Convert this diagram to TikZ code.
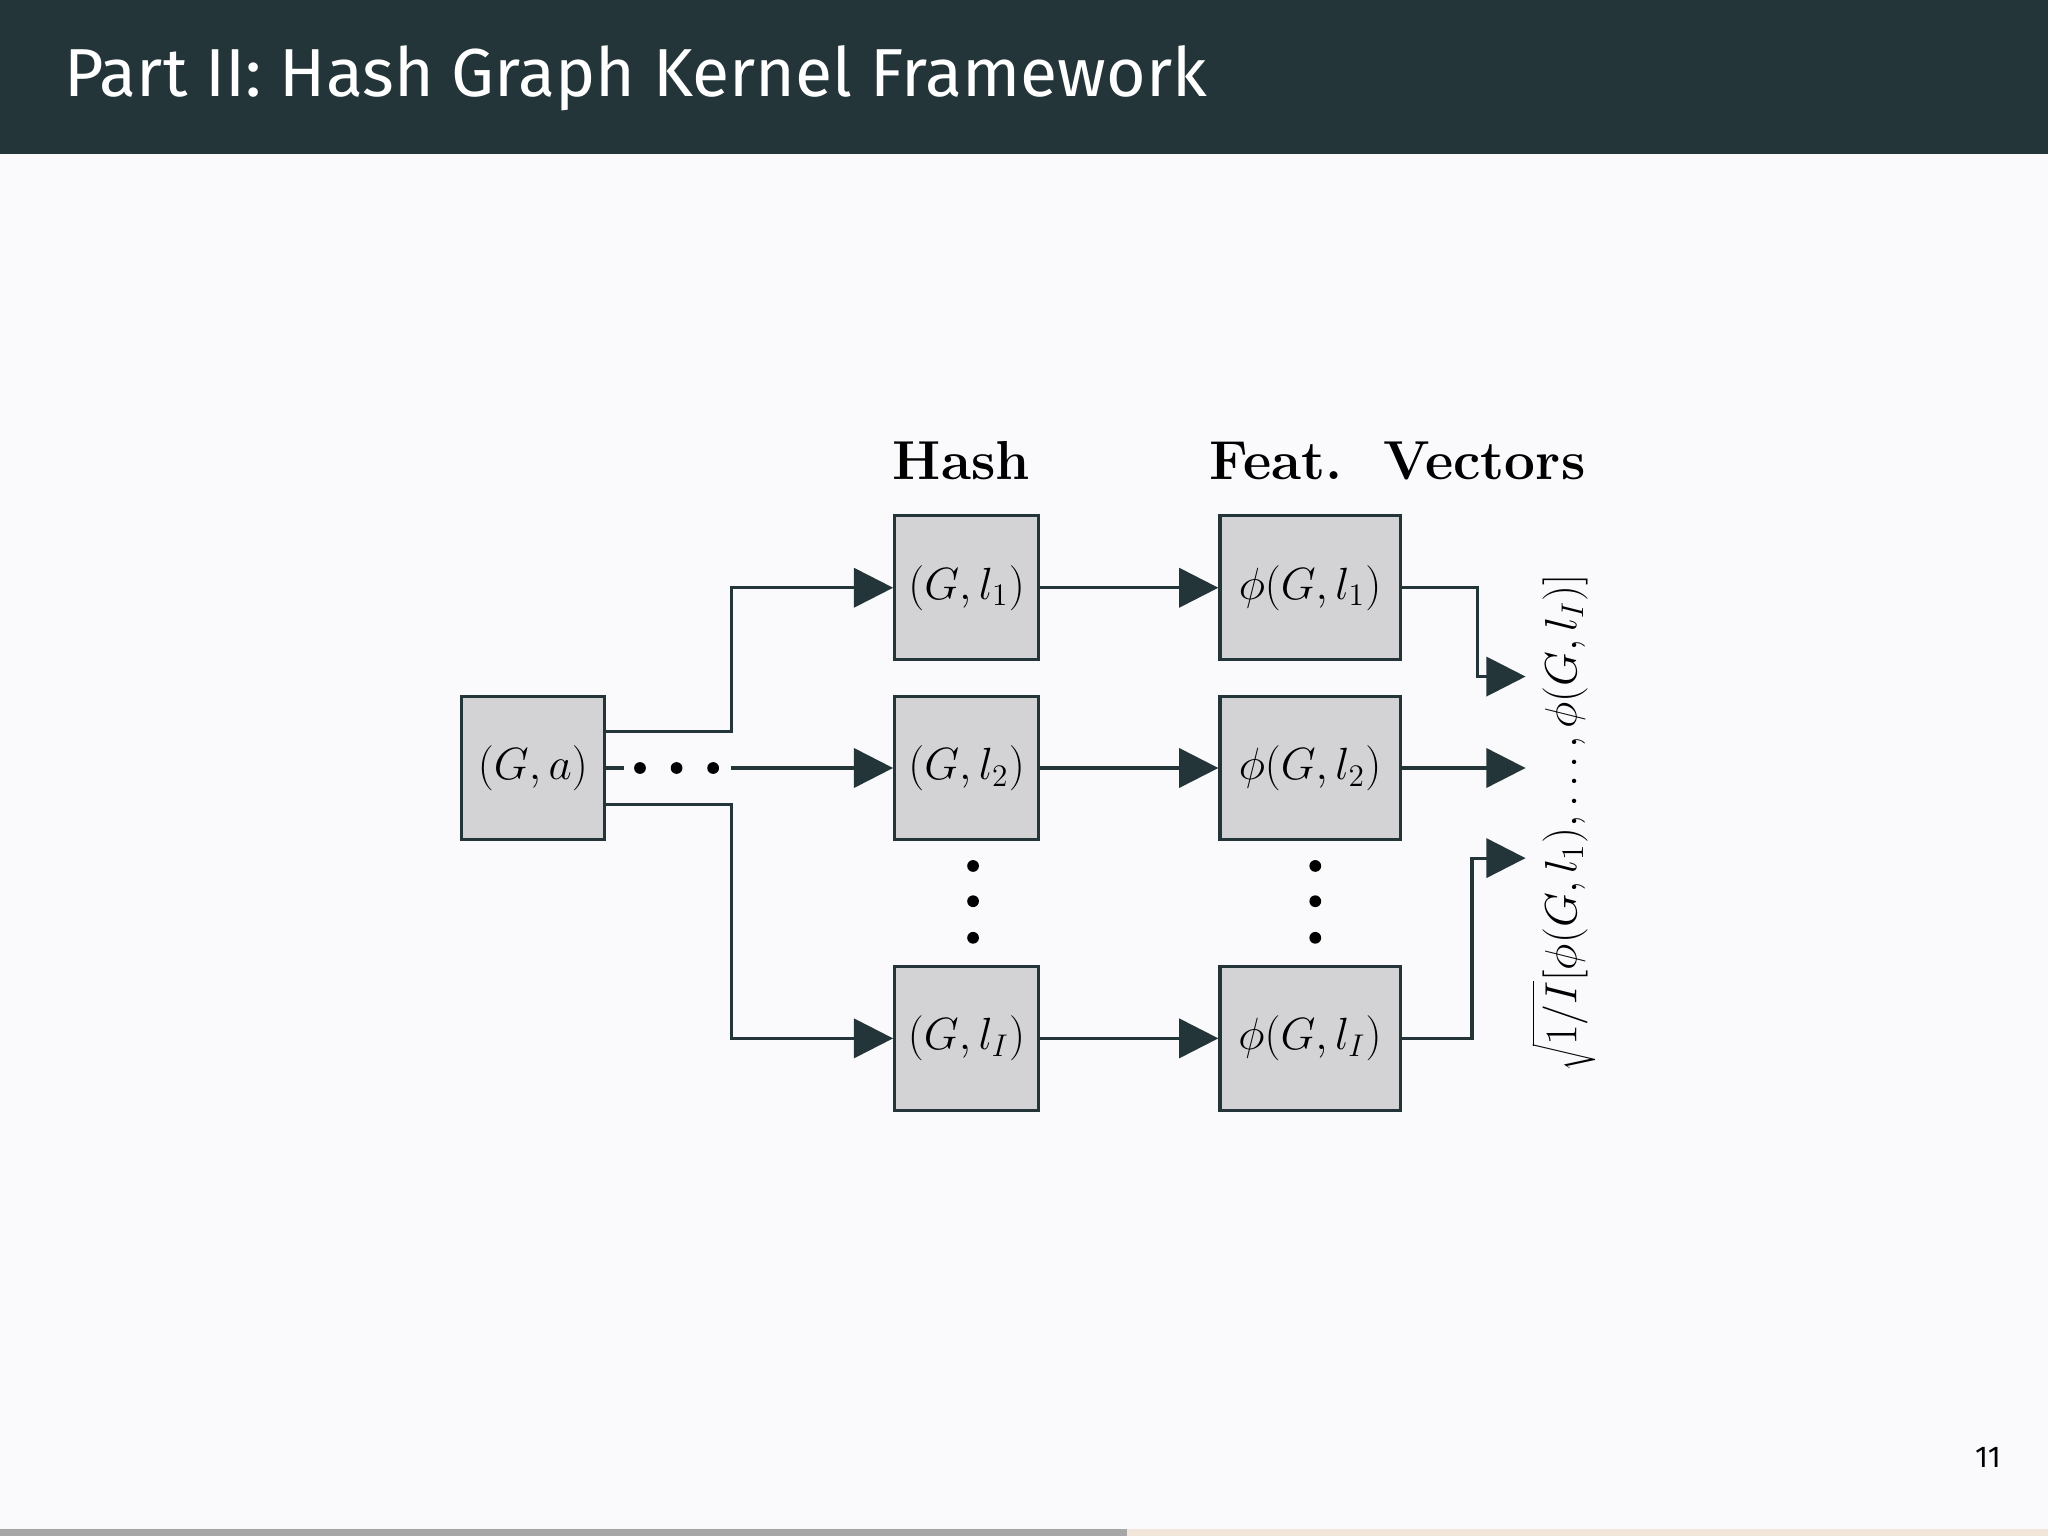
\documentclass[tikz,border=0pt]{standalone}
\usepackage{fontspec}
\newfontfamily\fira{Fira Sans}
\usetikzlibrary{arrows.meta}
\definecolor{hdr}{HTML}{233539}
\definecolor{bg}{HTML}{FAFAFD}
\definecolor{boxf}{HTML}{D3D3D6}
\begin{document}
\begin{tikzpicture}[x=0.5pt,y=-0.5pt,
  bx/.style={draw=hdr,line width=1.2pt,fill=boxf,inner sep=0pt,font=\fontsize{18}{20}\selectfont},
  ln/.style={draw=hdr,line width=1.2pt},
  ar/.style={ln,-{Triangle[length=15pt,width=15pt]}},
  dot/.style={fill=black,circle,inner sep=0pt,minimum size=4.5pt}]
\useasboundingbox (0,0) rectangle (1568,1176);
\fill[bg] (0,0) rectangle (1568,1176);
\fill[hdr] (0,0) rectangle (1568,118);
\node[anchor=west,text=white,font=\fira\fontsize{26}{30}\selectfont\mdseries] (title) at (42,60) {Part II: Hash Graph Kernel Framework};
\fill[gray!70] (0,1171) rectangle (863,1176);
\fill[brown!20] (863,1171) rectangle (1568,1176);
\node[font=\fira\fontsize{11.5}{13}\selectfont] (pg) at (1522,1116) {11};

\node[bx,minimum width=55pt,minimum height=55pt] (ga) at (408,588) {$(G,a)$};
\node[bx,minimum width=55pt,minimum height=55pt] (h1) at (740,450) {$(G,l_1)$};
\node[bx,minimum width=55pt,minimum height=55pt] (h2) at (740,588) {$(G,l_2)$};
\node[bx,minimum width=55pt,minimum height=55pt] (hI) at (740,795) {$(G,l_I)$};
\node[bx,minimum width=69pt,minimum height=55pt] (f1) at (1003,450) {$\phi(G,l_1)$};
\node[bx,minimum width=69pt,minimum height=55pt] (f2) at (1003,588) {$\phi(G,l_2)$};
\node[bx,minimum width=69pt,minimum height=55pt] (fI) at (1003,795) {$\phi(G,l_I)$};

\node[font=\bfseries\fontsize{21}{24}\selectfont] (lh) at (736,353) {Hash};
\node[font=\bfseries\fontsize{21}{24}\selectfont] (lf) at (1070,353) {Feat.\ \ Vectors};

\coordinate (m1) at (560,588);
\draw[ar] (ga.east |- 0,560) -| (560,520) |- (h1.west);
\draw[ar] (ga.east |- 0,616) -| (560,700) |- (hI.west);
\draw[ln] (ga.east) -- (478,588);
\foreach \x in {490,518,546} \node[dot] at (\x,588) {};
\draw[ar] (m1) -- (h2.west);
\draw[ar] (h1) -- (f1);
\draw[ar] (h2) -- (f2);
\draw[ar] (hI) -- (fI);
\foreach \x in {745,1007}{\foreach \y in {663,690,718} \node[dot] at (\x,\y) {};}

\coordinate (e1) at (1168,518);
\coordinate (e2) at (1168,588);
\coordinate (e3) at (1168,657);
\draw[ar] (f1.east) -| (1131,500) |- (e1);
\draw[ar] (f2.east) -- (e2);
\draw[ar] (fI.east) -| (1127,700) |- (e3);
\node[rotate=90,font=\fontsize{18}{20}\selectfont] (vec) at (1197,630) {$\sqrt{1/I}[\phi(G,l_1),\dots,\phi(G,l_I)]$};
\end{tikzpicture}
\end{document}
